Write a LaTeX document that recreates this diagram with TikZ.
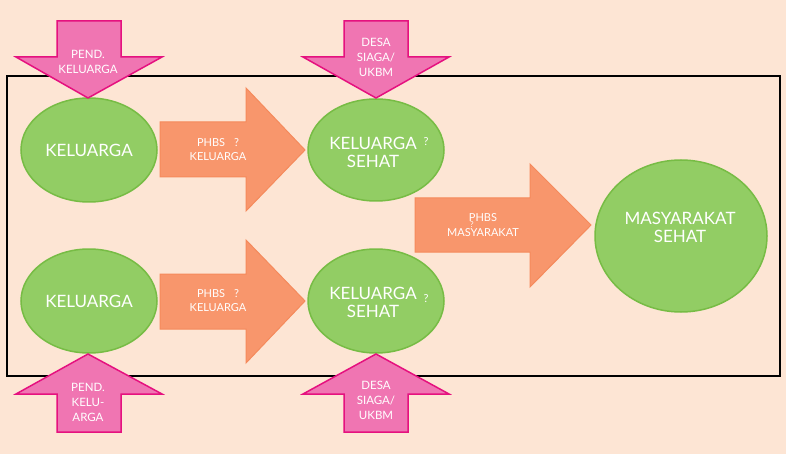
\documentclass[tikz,border=0pt]{standalone}
\usepackage{fontspec}
\setmainfont{Lato}
\definecolor{bgc}{HTML}{FDE5D4}
\definecolor{pinkfill}{HTML}{F075B2}
\definecolor{pinkline}{HTML}{E5117F}
\definecolor{orfill}{HTML}{F8966C}
\definecolor{orline}{HTML}{F58A5C}
\definecolor{grfill}{HTML}{92CD64}
\definecolor{grline}{HTML}{77BC45}
\tikzset{
  pinkarrow/.style={fill=pinkfill,draw=pinkline,line width=1.5pt,line join=miter},
  orarrow/.style={fill=orfill,draw=orline,line width=1pt},
  blob/.style={fill=grfill,draw=grline,line width=1.5pt},
  bigtxt/.style={text=white,font=\fontsize{17}{17}\selectfont,align=center,inner sep=0pt},
  smalltxt/.style={text=white,font=\fontsize{11}{14}\selectfont,align=center,inner sep=0pt},
  pinktxt/.style={text=white,font=\fontsize{11.5}{15}\selectfont,align=center,inner sep=0pt},
  qmark/.style={text=white,font=\fontsize{11}{11}\selectfont,inner sep=0pt},
  tinyq/.style={text=white,font=\fontsize{8}{8}\selectfont,inner sep=0pt}
}
\begin{document}
\begin{tikzpicture}[x=1pt,y=-1pt]
\useasboundingbox (0,0) rectangle (786,454);
\fill[bgc] (0,0) rectangle (786,454);
% frame
\draw[black,line width=1.2pt] (7,76) rectangle (780,376);
% orange arrows
\draw[orarrow] (160,122) -- (246,122) -- (246,88) -- (305,150) -- (246,211) -- (246,177) -- (160,177) -- cycle;
\draw[orarrow] (160,274) -- (246,274) -- (246,240) -- (305,301) -- (246,363) -- (246,329) -- (160,329) -- cycle;
\draw[orarrow] (415,198) -- (530,198) -- (530,164) -- (591,225) -- (530,287) -- (530,252) -- (415,252) -- cycle;
% ellipses
\draw[blob] (89,150) ellipse [x radius=68,y radius=52];
\draw[blob] (376,150) ellipse [x radius=68,y radius=51];
\draw[blob] (89,301) ellipse [x radius=68,y radius=52];
\draw[blob] (376,301) ellipse [x radius=68,y radius=52];
\draw[blob] (681,236) ellipse [x radius=86,y radius=76];
% pink arrows (down)
\draw[pinkarrow] (57,21) -- (121,21) -- (121,57) -- (162,57) -- (88,98) -- (16,57) -- (57,57) -- cycle;
\draw[pinkarrow] (344,21) -- (408,21) -- (408,57) -- (449,57) -- (376,98) -- (303,57) -- (344,57) -- cycle;
% pink arrows (up)
\draw[pinkarrow] (57,432) -- (121,432) -- (121,394) -- (162,394) -- (88,354) -- (16,394) -- (57,394) -- cycle;
\draw[pinkarrow] (344,432) -- (408,432) -- (408,394) -- (449,394) -- (376,354) -- (303,394) -- (344,394) -- cycle;
% texts
\node[bigtxt] (k1) at (89,150) {KELUARGA};
\node[bigtxt] (k2) at (89,301) {KELUARGA};
\node[bigtxt] (s1) at (373,152) {KELUARGA\\[1pt]SEHAT};
\node[qmark] (q1) at (426,142) {?};
\node[bigtxt] (s2) at (373,302) {KELUARGA\\[1pt]SEHAT};
\node[qmark] (q2) at (426,299) {?};
\node[bigtxt] (ms) at (680,227) {MASYARAKAT\\[1pt]SEHAT};
\node[smalltxt] (a1) at (218,150) {PHBS\hspace{9pt}?\\KELUARGA};
\node[smalltxt] (a2) at (218,301) {PHBS\hspace{9pt}?\\KELUARGA};
\node[smalltxt] (a3) at (483,225) {PHBS\\[1pt]MASYARAKAT};
\node[tinyq] (q3) at (472,225) {?};
\node[pinktxt] (p1) at (88,62) {PEND.\\KELUARGA};
\node[pinktxt] (p2) at (376,57) {DESA\\SIAGA/\\UKBM};
\node[pinktxt] (p3) at (88,402) {PEND.\\KELU-\\ARGA};
\node[pinktxt] (p4) at (376,400) {DESA\\SIAGA/\\UKBM};
\end{tikzpicture}
\end{document}
